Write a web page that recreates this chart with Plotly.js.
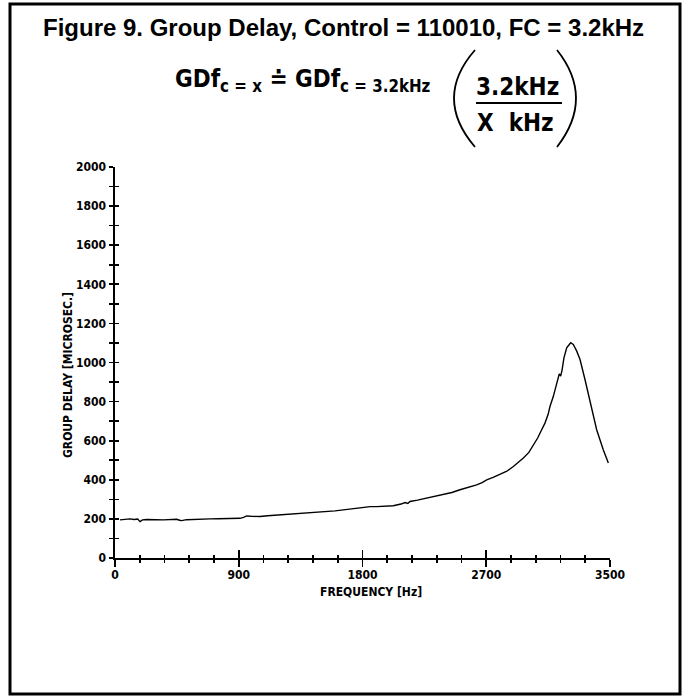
<!DOCTYPE html>
<html><head><meta charset="utf-8">
<script src="https://cdn.plot.ly/plotly-3.0.1.min.js"></script>
<style>html,body{margin:0;padding:0;background:#fff}</style>
</head><body><div id="chart" style="width:684px;height:700px"></div>
<script>
// ---- data ----
const freqHz = [36,70,109,140,165,182,200,230,255,300,351,400,449,470,485,520,570,630,691,750,812,860,909,935,958,1000,1055,1110,1176,1240,1297,1360,1418,1480,1539,1600,1661,1710,1758,1800,1855,1903,1960,2024,2080,2110,2130,2145,2200,2267,2330,2388,2450,2509,2570,2630,2670,2703,2750,2800,2850,2897,2935,2970,3010,3042,3075,3103,3127,3150,3164,3188,3212,3231,3241,3251,3265,3285,3314,3333,3358,3382,3418,3455,3503,3551,3588];
const groupDelayUs = [195,198,200,197,199,186,195,197,198,196,195,197,198,193,191,196,198,199,200,201,203,202,203,208,215,213,212,216,219,222,226,229,232,234,237,241,246,250,255,256,263,263,266,267,276,284,279,289,296,306,314,323,335,349,361,374,386,400,412,426,444,468,488,511,540,575,615,656,690,735,776,827,896,942,930,960,1024,1075,1101,1092,1058,1015,913,795,656,554,486];
const xTickVals = [0,900,1800,2700,3600];
const xTickText = ['0','900','1800','2700','3500'];
const yTickVals = [0,200,400,600,800,1000,1200,1400,1600,1800,2000];
const yTickText = yTickVals.map(String);
const titleText = 'Figure 9. Group Delay, Control = 110010, FC = 3.2kHz';
const formulaText = 'GDf<sub>c = x</sub> \u2250 GDf<sub>c = 3.2kHz</sub>';
const numeratorText = '3.2kHz';
const denominatorText = 'X  kHz';
const xTitle = 'FREQUENCY [Hz]';
const yTitle = 'GROUP DELAY [MICROSEC.]';

// ---- layout geometry (pixels) ----
const W = 684, H = 700, L = 115, R = 610, T = 167, B = 558;
const px = x => (x - L) / (R - L);
const py = y => (B - y) / (B - T);
const narrow = '"DejaVu Sans Condensed", "Liberation Sans Narrow", sans-serif';
const sans = '"Liberation Sans", Arial, sans-serif';
const tickFont = {family: narrow, size: 12, color: '#000', weight: 'bold'};

const traces = [
  {x: freqHz, y: groupDelayUs, type: 'scatter', mode: 'lines',
   line: {color: '#000', width: 1.4}, hoverinfo: 'skip', showlegend: false},
  {x: freqHz, y: groupDelayUs, xaxis: 'x2', yaxis: 'y2', type: 'scatter', mode: 'lines',
   line: {color: 'rgba(0,0,0,0)', width: 0}, hoverinfo: 'skip', showlegend: false}
];

const axCommon = {showgrid: false, zeroline: false, tickcolor: '#000', tickwidth: 1.6, fixedrange: true};
const layout = {
  width: W, height: H,
  margin: {l: L, r: W - R, t: T, b: H - B, pad: 0},
  paper_bgcolor: '#fff', plot_bgcolor: '#fff',
  showlegend: false,
  xaxis: Object.assign({}, axCommon, {
    range: [0, 3600], tickmode: 'array', tickvals: xTickVals, ticktext: xTickText,
    ticks: 'outside', ticklen: 7, showline: true, linecolor: '#000', linewidth: 2,
    tickfont: tickFont, ticklabelstandoff: -2,
    minor: {tickmode: 'linear', tick0: 0, dtick: 180, ticks: 'outside', ticklen: 3, tickwidth: 1.6, tickcolor: '#000', showgrid: false}
  }),
  xaxis2: Object.assign({}, axCommon, {
    overlaying: 'x', anchor: 'y', side: 'bottom',
    range: [0, 3600], tickmode: 'array', tickvals: xTickVals, ticktext: xTickText,
    ticks: 'inside', ticklen: 8, showticklabels: false, showline: false,
    minor: {tickmode: 'linear', tick0: 0, dtick: 180, ticks: 'inside', ticklen: 3, tickwidth: 1.6, tickcolor: '#000', showgrid: false}
  }),
  yaxis: Object.assign({}, axCommon, {
    range: [0, 2000], tickmode: 'array', tickvals: yTickVals, ticktext: yTickText,
    ticks: 'outside', ticklen: 4, showline: true, linecolor: '#000', linewidth: 2.5,
    tickfont: tickFont,
    minor: {tickmode: 'linear', tick0: 0, dtick: 100, ticks: 'outside', ticklen: 4, tickwidth: 1.6, tickcolor: '#000', showgrid: false}
  }),
  yaxis2: Object.assign({}, axCommon, {
    overlaying: 'y', anchor: 'x', side: 'left',
    range: [0, 2000], tickmode: 'array', tickvals: yTickVals, ticktext: yTickText,
    ticks: 'inside', ticklen: 4, showticklabels: false, showline: false,
    minor: {tickmode: 'linear', tick0: 0, dtick: 100, ticks: 'inside', ticklen: 4, tickwidth: 1.6, tickcolor: '#000', showgrid: false}
  }),
  annotations: [
    {text: titleText, xref: 'paper', yref: 'paper', x: px(343), y: py(27), xanchor: 'center', yanchor: 'middle',
     showarrow: false, font: {family: sans, size: 24, color: '#000', weight: 'bold'}},
    {text: formulaText, xref: 'paper', yref: 'paper', x: px(173), y: py(80), xanchor: 'left', yanchor: 'middle',
     showarrow: false, font: {family: narrow, size: 24, color: '#000', weight: 'bold'}},
    {text: numeratorText, xref: 'paper', yref: 'paper', x: px(517), y: py(87), xanchor: 'center', yanchor: 'middle',
     showarrow: false, font: {family: narrow, size: 24, color: '#000', weight: 'bold'}},
    {text: denominatorText, xref: 'paper', yref: 'paper', x: px(515), y: py(123), xanchor: 'center', yanchor: 'middle',
     showarrow: false, font: {family: narrow, size: 24, color: '#000', weight: 'bold'}},
    {text: xTitle, xref: 'paper', yref: 'paper', x: px(371), y: py(592), xanchor: 'center', yanchor: 'middle',
     showarrow: false, font: {family: narrow, size: 12, color: '#000', weight: 'bold'}},
    {text: yTitle, xref: 'paper', yref: 'paper', x: px(68), y: py(375), xanchor: 'center', yanchor: 'middle', textangle: -90,
     showarrow: false, font: {family: narrow, size: 12, color: '#000', weight: 'bold'}}
  ],
  shapes: [
    {type: 'rect', xref: 'paper', yref: 'paper', x0: px(10), x1: px(680), y0: py(4), y1: py(694),
     line: {color: '#000', width: 3}, fillcolor: 'rgba(0,0,0,0)', layer: 'above'},
    {type: 'line', xref: 'paper', yref: 'paper', x0: px(476), x1: px(562), y0: py(103), y1: py(103),
     line: {color: '#000', width: 2}},
    {type: 'path', xref: 'paper', yref: 'paper',
     path: `M ${px(475)},${py(50)} Q ${px(433)},${py(98)} ${px(475)},${py(147)}`,
     line: {color: '#000', width: 1.8}},
    {type: 'path', xref: 'paper', yref: 'paper',
     path: `M ${px(557)},${py(50)} Q ${px(595)},${py(98)} ${px(557)},${py(147)}`,
     line: {color: '#000', width: 1.8}}
  ]
};

Plotly.newPlot('chart', traces, layout, {displayModeBar: false, staticPlot: true});
</script>
</body></html>
